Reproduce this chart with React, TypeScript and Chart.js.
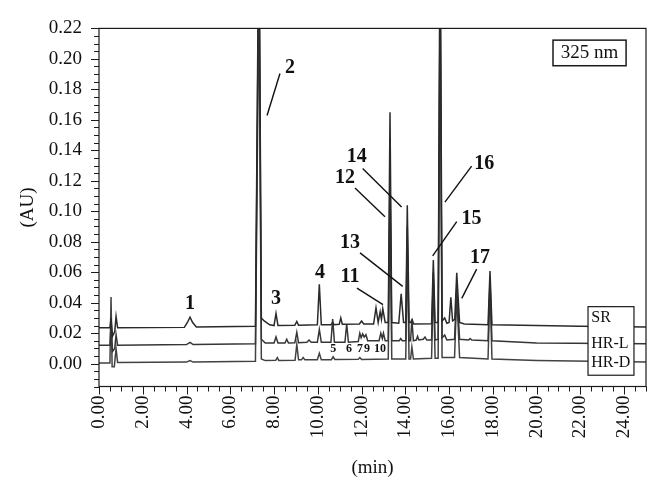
import React, { useEffect, useRef } from 'react';
import { Chart, registerables } from 'chart.js';

Chart.register(...registerables);

// ---------- data ----------
const xTickValues = [0, 2, 4, 6, 8, 10, 12, 14, 16, 18, 20, 22, 24];
const yTickValues = [0, 0.02, 0.04, 0.06, 0.08, 0.1, 0.12, 0.14, 0.16, 0.18, 0.2, 0.22];
const seriesNames = ['SR', 'HR-L', 'HR-D'];

// [time (min), absorbance (AU)]
const srTrace: [number, number][] = [
  [0, 0.0235], [0.5, 0.0235], [0.55, 0.03], [0.62, 0.018], [0.72, 0.021], [0.78, 0.031], [0.85, 0.0235],
  [3.9, 0.0238], [4.04, 0.027], [4.16, 0.0305], [4.28, 0.027], [4.45, 0.024],
  [7.15, 0.0245], [7.31, 0.3], [7.42, 0.03], [7.55, 0.028], [7.8, 0.0255],
  [8.0, 0.025], [8.09, 0.033], [8.18, 0.025],
  [8.95, 0.0252], [9.04, 0.0277], [9.12, 0.0252],
  [9.98, 0.0255], [10.07, 0.052], [10.16, 0.0255],
  [10.6, 0.0255], [10.68, 0.027], [10.75, 0.0255],
  [10.98, 0.0258], [11.05, 0.03], [11.12, 0.0258],
  [11.9, 0.026], [12.0, 0.028], [12.1, 0.026],
  [12.55, 0.026], [12.66, 0.0366], [12.76, 0.027], [12.85, 0.034], [12.91, 0.029], [12.97, 0.036], [13.08, 0.027],
  [13.22, 0.027], [13.3, 0.165], [13.38, 0.027],
  [13.7, 0.0265], [13.81, 0.0458], [13.92, 0.027],
  [14.02, 0.027], [14.09, 0.104], [14.17, 0.027],
  [14.24, 0.027], [14.31, 0.029], [14.38, 0.026],
  [15.2, 0.0262], [15.28, 0.068], [15.36, 0.027],
  [15.5, 0.027], [15.59, 0.3], [15.68, 0.028], [15.8, 0.03], [15.9, 0.0265],
  [16.0, 0.027], [16.08, 0.0435], [16.16, 0.028], [16.26, 0.029], [16.35, 0.0597], [16.48, 0.027],
  [16.7, 0.026], [17.78, 0.0255], [17.87, 0.0607], [17.96, 0.0255],
  [20.0, 0.025], [22.0, 0.0245], [25, 0.024],
];

const hrlTrace: [number, number][] = [
  [0, 0.012], [0.5, 0.012], [0.55, 0.025], [0.62, 0.008], [0.72, 0.01], [0.78, 0.019], [0.85, 0.012],
  [4.0, 0.0125], [4.16, 0.014], [4.3, 0.0125],
  [7.15, 0.013], [7.31, 0.28], [7.42, 0.016], [7.6, 0.0135],
  [8.0, 0.0135], [8.09, 0.0175], [8.18, 0.0135],
  [8.5, 0.0135], [8.58, 0.016], [8.66, 0.0135],
  [8.95, 0.0137], [9.04, 0.0206], [9.12, 0.0137],
  [9.5, 0.014], [9.6, 0.0155], [9.7, 0.014],
  [9.98, 0.014], [10.07, 0.0224], [10.16, 0.014],
  [10.6, 0.014], [10.68, 0.0293], [10.76, 0.014],
  [11.24, 0.014], [11.32, 0.026], [11.4, 0.014],
  [11.85, 0.0145], [11.92, 0.02], [11.98, 0.017], [12.05, 0.0195], [12.12, 0.0175], [12.2, 0.019], [12.28, 0.015],
  [12.8, 0.015], [12.88, 0.02], [12.95, 0.0165], [13.0, 0.02], [13.08, 0.015],
  [13.22, 0.015], [13.3, 0.13], [13.38, 0.015],
  [13.72, 0.015], [13.79, 0.0165], [13.86, 0.015],
  [14.02, 0.015], [14.09, 0.09], [14.17, 0.015],
  [14.24, 0.015], [14.3, 0.029], [14.37, 0.015],
  [14.5, 0.0155], [14.56, 0.018], [14.62, 0.0155],
  [14.82, 0.016], [14.9, 0.0175], [14.98, 0.0155],
  [15.2, 0.0155], [15.28, 0.06], [15.36, 0.0155],
  [15.5, 0.016], [15.59, 0.25], [15.68, 0.017], [15.8, 0.0187], [15.9, 0.0155],
  [16.25, 0.016], [16.35, 0.05], [16.48, 0.016],
  [16.9, 0.0155], [16.96, 0.0165], [17.04, 0.0155],
  [17.78, 0.015], [17.87, 0.055], [17.96, 0.015],
  [20.0, 0.0135], [25, 0.013],
];

const hrdTrace: [number, number][] = [
  [0, 0.0005], [0.5, 0.0005], [0.55, 0.0437], [0.6, -0.002], [0.7, -0.002], [0.78, 0.0098], [0.85, 0.0008],
  [4.0, 0.001], [4.16, 0.002], [4.3, 0.001],
  [7.15, 0.0015], [7.31, 0.25], [7.42, 0.003], [7.6, 0.002],
  [8.08, 0.0022], [8.15, 0.004], [8.22, 0.002],
  [8.96, 0.0022], [9.04, 0.0126], [9.12, 0.0025],
  [9.25, 0.0025], [9.33, 0.004], [9.41, 0.0025],
  [9.98, 0.0025], [10.07, 0.0068], [10.16, 0.0026],
  [10.62, 0.0026], [10.7, 0.0045], [10.78, 0.0027],
  [11.85, 0.0028], [11.92, 0.004], [12.0, 0.0028],
  [13.22, 0.003], [13.3, 0.11], [13.38, 0.003],
  [14.02, 0.003], [14.09, 0.08], [14.17, 0.003],
  [14.24, 0.003], [14.3, 0.011], [14.37, 0.003],
  [15.2, 0.0035], [15.28, 0.055], [15.36, 0.0035],
  [15.5, 0.0035], [15.59, 0.24], [15.68, 0.004],
  [16.25, 0.004], [16.35, 0.045], [16.48, 0.004],
  [17.78, 0.003], [17.87, 0.05], [17.96, 0.003],
  [20.0, 0.002], [25, 0.001],
];

// peak labels: text, time, AU
const peakLabels: [string, number, number][] = [
  ['1', 4.16, 0.0394], ['2', 8.73, 0.1943], ['3', 8.09, 0.0426], ['4', 10.1, 0.0593],
  ['11', 11.47, 0.0567], ['12', 11.24, 0.1221], ['13', 11.47, 0.0792], ['14', 11.78, 0.136],
  ['15', 17.03, 0.0953], ['16', 17.61, 0.1311], ['17', 17.41, 0.0695],
];
const smallLabels: [string, number, number][] = [
  ['5', 10.71, 0.0098], ['6', 11.43, 0.0098], ['7', 11.93, 0.0098], ['9', 12.25, 0.0098], ['10', 12.84, 0.0098],
];
// leader lines: t1, v1, t2, v2
const leaderLines: [number, number, number, number][] = [
  [8.27, 0.1904, 7.68, 0.1628],
  [11.79, 0.0496, 12.98, 0.0387],
  [11.7, 0.1152, 13.07, 0.0964],
  [11.93, 0.0727, 13.88, 0.0507],
  [12.05, 0.1281, 13.83, 0.1028],
  [16.35, 0.0932, 15.25, 0.0707],
  [17.03, 0.1296, 15.81, 0.106],
  [17.26, 0.062, 16.58, 0.0428],
];
// legend box & wavelength box (in data units)
const legendBox = { t1: 22.35, t2: 24.45, v1: 0.0374, v2: -0.0076, textT: 22.5 };
const legendRows = [0.0299, 0.0133, 0.0005];
const waveBox = { t1: 20.75, t2: 24.09, v1: 0.2123, v2: 0.1955, text: '325 nm', textT: 22.42, textV: 0.204 };

const X_MIN = 0, X_MAX = 25, X_MINOR = 0.5, X_MAJOR = 2;
const Y_MIN = -0.015, Y_MAX = 0.22, Y_MINOR = 0.005, Y_MAJOR = 0.02;

const SERIF = "'Liberation Serif', 'Times New Roman', serif";

const decorPlugin = {
  id: 'decor',
  afterDatasetsDraw(chart: any) {
    const { ctx, chartArea: a, scales } = chart;
    const x = scales.x, y = scales.y;
    const px = (t: number) => x.getPixelForValue(t);
    const py = (v: number) => y.getPixelForValue(v);
    ctx.save();
    ctx.strokeStyle = '#1a1a1a';
    ctx.lineWidth = 1.2;
    ctx.strokeRect(a.left, a.top, a.right - a.left, a.bottom - a.top);

    // tick marks
    ctx.lineWidth = 1;
    const nx = Math.round((X_MAX - X_MIN) / X_MINOR);
    for (let i = 0; i <= nx; i++) {
      const t = X_MIN + i * X_MINOR;
      const major = Math.abs(t / X_MAJOR - Math.round(t / X_MAJOR)) < 1e-6;
      const p = Math.round(px(t)) + 0.5;
      ctx.beginPath();
      ctx.moveTo(p, a.bottom);
      ctx.lineTo(p, a.bottom + (major ? 8 : 5));
      ctx.stroke();
    }
    const ny = Math.round((Y_MAX - Y_MIN) / Y_MINOR);
    for (let i = 0; i <= ny; i++) {
      const v = Y_MIN + i * Y_MINOR;
      const major = Math.abs(v / Y_MAJOR - Math.round(v / Y_MAJOR)) < 1e-6;
      const p = Math.round(py(v)) + 0.5;
      ctx.beginPath();
      ctx.moveTo(a.left, p);
      ctx.lineTo(a.left - (major ? 8 : 5), p);
      ctx.stroke();
    }

    // leader lines
    ctx.strokeStyle = '#111';
    ctx.lineWidth = 1.4;
    for (const [t1, v1, t2, v2] of leaderLines) {
      ctx.beginPath();
      ctx.moveTo(px(t1), py(v1));
      ctx.lineTo(px(t2), py(v2));
      ctx.stroke();
    }

    // peak labels
    ctx.fillStyle = '#111';
    ctx.textAlign = 'center';
    ctx.textBaseline = 'middle';
    ctx.font = `bold 20px ${SERIF}`;
    for (const [s, t, v] of peakLabels) ctx.fillText(s, px(t), py(v));
    ctx.font = `bold 12px ${SERIF}`;
    for (const [s, t, v] of smallLabels) ctx.fillText(s, px(t), py(v));

    // legend box
    const lx1 = px(legendBox.t1), lx2 = px(legendBox.t2), ly1 = py(legendBox.v1), ly2 = py(legendBox.v2);
    ctx.fillStyle = '#fff';
    ctx.fillRect(lx1, ly1, lx2 - lx1, ly2 - ly1);
    ctx.strokeStyle = '#1a1a1a';
    ctx.lineWidth = 1.2;
    ctx.strokeRect(lx1, ly1, lx2 - lx1, ly2 - ly1);
    ctx.fillStyle = '#111';
    ctx.textAlign = 'left';
    ctx.font = `16px ${SERIF}`;
    seriesNames.forEach((n, i) => ctx.fillText(n, px(legendBox.textT), py(legendRows[i])));

    // wavelength box
    const wx1 = px(waveBox.t1), wx2 = px(waveBox.t2), wy1 = py(waveBox.v1), wy2 = py(waveBox.v2);
    ctx.fillStyle = '#fff';
    ctx.fillRect(wx1, wy1, wx2 - wx1, wy2 - wy1);
    ctx.lineWidth = 1.5;
    ctx.strokeRect(wx1, wy1, wx2 - wx1, wy2 - wy1);
    ctx.fillStyle = '#111';
    ctx.textAlign = 'center';
    ctx.font = `19px ${SERIF}`;
    ctx.fillText(waveBox.text, px(waveBox.textT), py(waveBox.textV));
    ctx.restore();
  },
};

export default function App() {
  const ref = useRef<HTMLCanvasElement | null>(null);
  useEffect(() => {
    if (!ref.current) return;
    const traces = [srTrace, hrlTrace, hrdTrace];
    const colors = ['#2a2a2a', '#363636', '#424242'];
    const chart = new Chart(ref.current, {
      type: 'line',
      data: {
        datasets: traces.map((tr, i) => ({
          label: seriesNames[i],
          data: tr.map(([t, v]) => ({ x: t, y: v })),
          borderColor: colors[i],
          borderWidth: 1.5,
          pointRadius: 0,
          tension: 0,
          fill: false,
        })),
      },
      options: {
        responsive: false,
        animation: false,
        events: [],
        layout: { padding: { left: 0, top: 21, right: 12, bottom: 0 } },
        plugins: { legend: { display: false }, tooltip: { enabled: false } },
        scales: {
          x: {
            type: 'linear',
            min: X_MIN,
            max: X_MAX,
            afterBuildTicks: (s: any) => { s.ticks = xTickValues.map((v) => ({ value: v })); },
            afterFit: (s: any) => { s.height = 106.5; },
            grid: { display: true, drawOnChartArea: false, drawTicks: false },
            border: { display: false },
            ticks: {
              autoSkip: false,
              minRotation: 90,
              maxRotation: 90,
              padding: 9,
              color: '#111',
              font: { family: SERIF, size: 19 },
              callback: (v: any) => Number(v).toFixed(2),
            },
            title: { display: true, text: '(min)', color: '#111', font: { family: SERIF, size: 19 }, padding: { top: 0, bottom: 14 } },
          },
          y: {
            type: 'linear',
            min: Y_MIN,
            max: Y_MAX,
            afterBuildTicks: (s: any) => { s.ticks = yTickValues.map((v) => ({ value: v })); },
            afterFit: (s: any) => { s.width = 99; },
            grid: { display: true, drawOnChartArea: false, drawTicks: false },
            border: { display: false },
            ticks: {
              autoSkip: false,
              padding: 17,
              color: '#111',
              font: { family: SERIF, size: 19 },
              callback: (v: any) => Number(v).toFixed(2),
            },
            title: { display: true, text: '(AU)', color: '#111', font: { family: SERIF, size: 19 }, padding: { top: 17, bottom: 0 } },
          },
        },
      },
      plugins: [decorPlugin],
    } as any);
    return () => chart.destroy();
  }, []);
  return (
    <div style={{ position: 'absolute', left: 0, top: 0, width: 658, height: 493, background: '#fff' }}>
      <canvas ref={ref} width={658} height={493} />
    </div>
  );
}
